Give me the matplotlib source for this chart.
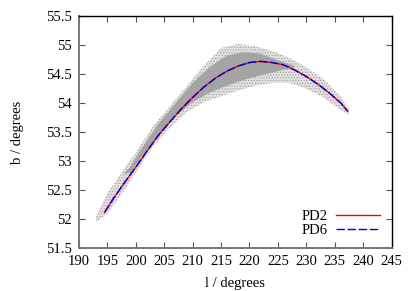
import matplotlib.pyplot as plt
import numpy as np

# fitted curve
curve_l = [194.5, 196, 198, 200, 202, 204, 206, 208, 210, 212, 214, 216, 218,
           220, 222, 224, 226, 228, 230, 232, 234, 236, 237.3]
curve_b = [52.12, 52.35, 52.63, 52.90, 53.18, 53.45, 53.68, 53.90, 54.10, 54.28,
           54.43, 54.55, 54.64, 54.70, 54.72, 54.70, 54.66, 54.57, 54.46, 54.33,
           54.18, 54.01, 53.86]

# envelope of the sparse point cloud
cloud_l = [193, 195, 198, 200, 203, 206, 209, 212, 215, 218, 221, 224, 227,
           230, 233, 236, 237.5]
cloud_lo = [51.95, 52.1, 52.5, 52.8, 53.25, 53.58, 53.85, 54.02, 54.12, 54.22,
            54.3, 54.35, 54.35, 54.25, 54.1, 53.88, 53.8]
cloud_hi = [52.05, 52.45, 52.88, 53.15, 53.6, 53.95, 54.3, 54.65, 54.95, 55.02,
            54.98, 54.9, 54.78, 54.62, 54.42, 54.12, 53.9]

# envelope of the dense core
core_l = [198, 199, 201, 204, 207, 210, 213, 216, 219, 222, 225, 228]
core_lo = [52.78, 52.8, 53.08, 53.45, 53.78, 54.02, 54.18, 54.3, 54.4, 54.48, 54.55, 54.62]
core_hi = [52.8, 52.9, 53.22, 53.65, 54.0, 54.35, 54.62, 54.82, 54.88, 54.85, 54.74, 54.64]

x_ticks = np.arange(190, 246, 5)
y_ticks = [51.5, 52, 52.5, 53, 53.5, 54, 54.5, 55, 55.5]
y_labels = ['51.5', '52', '52.5', '53', '53.5', '54', '54.5', '55', '55.5']

plt.rcParams['font.family'] = ['Liberation Serif', 'DejaVu Serif']
plt.rcParams['hatch.color'] = '#9a9a9a'
plt.rcParams['hatch.linewidth'] = 0.5

fig = plt.figure(figsize=(4.15, 2.91), dpi=100)
ax = fig.add_axes([0.1904, 0.1467, 0.753, 0.798])

ax.fill_between(cloud_l, cloud_lo, cloud_hi, facecolor='#e2e2e2',
                hatch='......', edgecolor='none', linewidth=0)
ax.fill_between(core_l, core_lo, core_hi, facecolor='#a4a4a4',
                edgecolor='none', linewidth=0)

ax.plot(curve_l, curve_b, color='red', lw=1.0, label='PD2')
ax.plot(curve_l, curve_b, color='#0000cc', lw=1.0, ls=(0, (6, 2)), label='PD6')

ax.set_xlim(190, 245)
ax.set_ylim(51.5, 55.5)
ax.set_xticks(x_ticks)
ax.set_yticks(y_ticks)
ax.set_yticklabels(y_labels)
ax.tick_params(direction='in', top=True, right=True, length=4, width=0.8,
               color='#555555', labelsize=10.5, pad=5)
for side in ['left', 'bottom']:
    ax.spines[side].set_color('#777777')
    ax.spines[side].set_linewidth(1.4)
for side in ['top', 'right']:
    ax.spines[side].set_linewidth(1.0)

ax.set_xlabel('l / degrees', fontsize=10.5, labelpad=6)
ax.set_ylabel('b / degrees', fontsize=10.5, labelpad=16)

leg = ax.legend(loc='lower right', frameon=False, markerfirst=False,
                fontsize=10.5, handlelength=3.0, handletextpad=0.6,
                labelspacing=0.0, borderaxespad=0.4)
for t in leg.get_texts():
    t.set_ha('right')

fig.savefig('out.png', dpi=100)
